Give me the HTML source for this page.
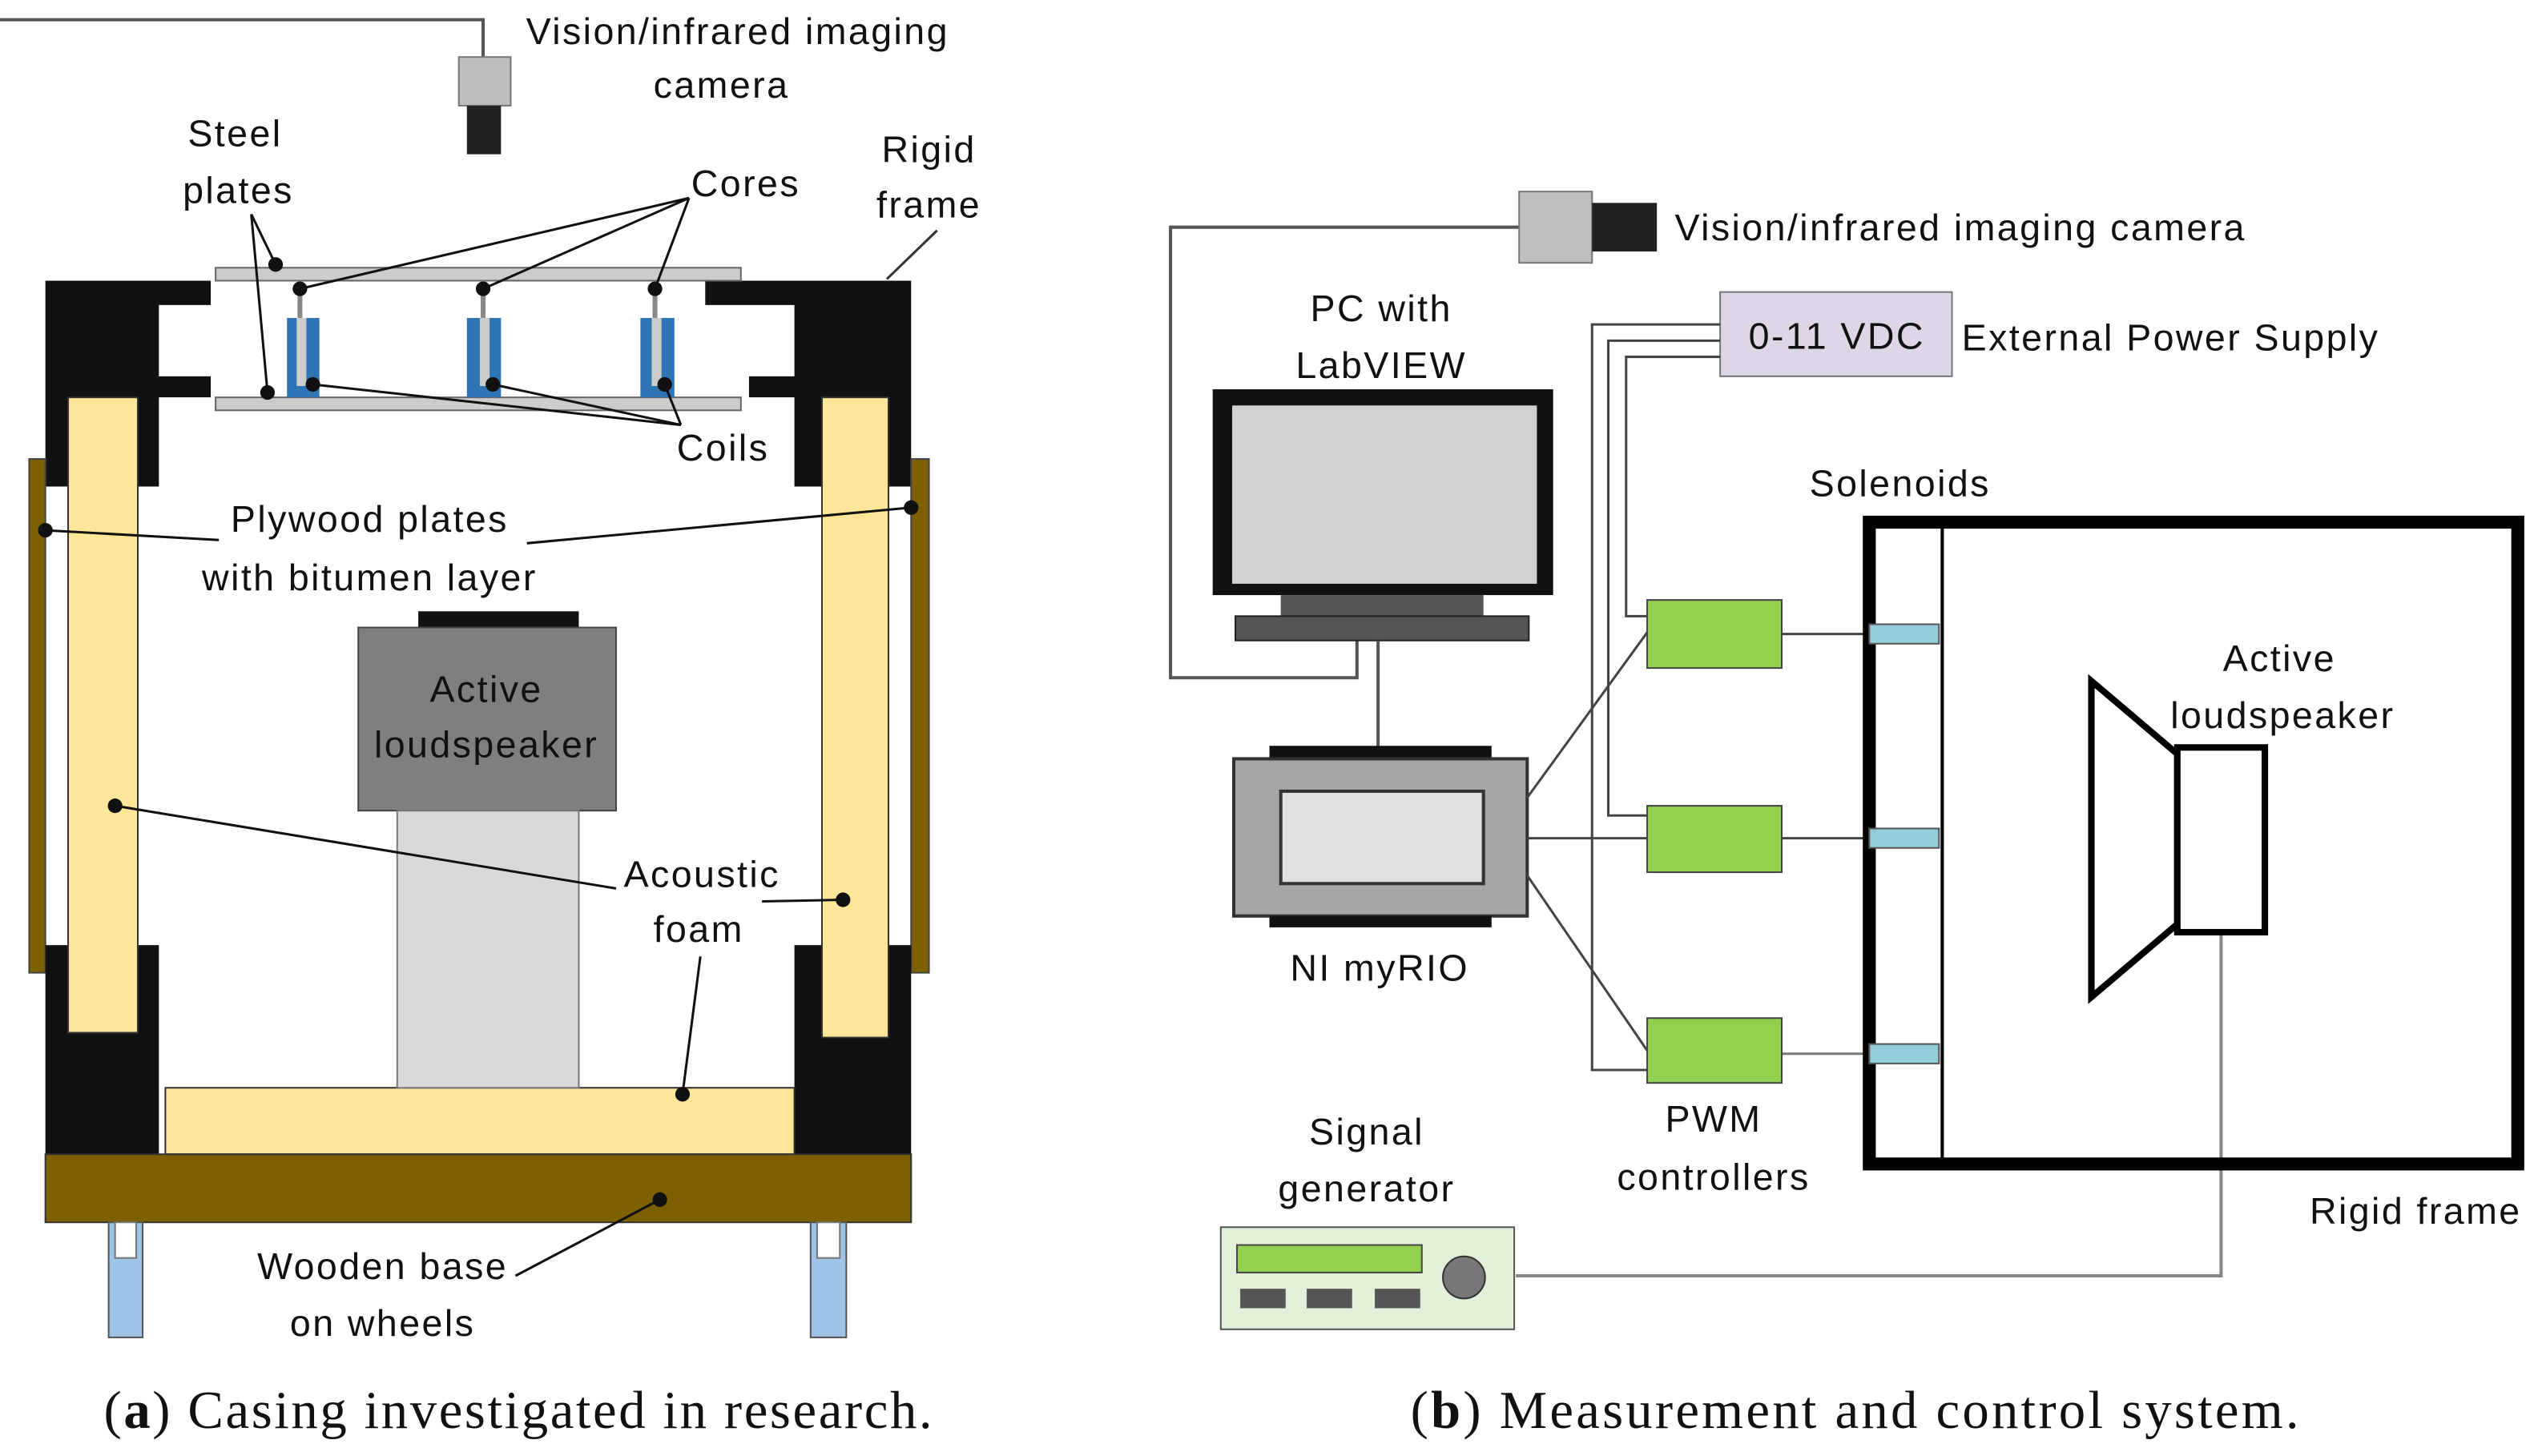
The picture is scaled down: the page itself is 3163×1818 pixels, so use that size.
<!DOCTYPE html>
<html><head><meta charset="utf-8"><style>
html,body{margin:0;padding:0;background:#fff;}
svg{display:block;}
text{font-family:"Liberation Sans",sans-serif;font-size:23px;fill:#111;letter-spacing:1.2px;}
.cap{font-family:"Liberation Serif",serif;font-size:33px;letter-spacing:0;}
</style></head><body>
<svg width="3163" height="1818" viewBox="0 0 1563 898" xmlns="http://www.w3.org/2000/svg">
<!-- ===== (a) ===== -->
<polyline points="0,12 298,12 298,36" fill="none" stroke="#555" stroke-width="2"/>
<rect x="283" y="35" width="32" height="30" fill="#bdbdbd" stroke="#777"/>
<rect x="288" y="65" width="21" height="30" fill="#222"/>
<text x="455" y="27" text-anchor="middle">Vision/infrared imaging</text>
<text x="445" y="60" text-anchor="middle">camera</text>
<text x="145" y="90" text-anchor="middle">Steel</text>
<text x="147" y="125" text-anchor="middle">plates</text>
<text x="460" y="121" text-anchor="middle">Cores</text>
<text x="573" y="100" text-anchor="middle">Rigid</text>
<text x="573" y="134" text-anchor="middle">frame</text>
<line x1="547" y1="172" x2="578" y2="142" stroke="#333" stroke-width="1.5"/>
<path d="M28,173 H130 V188 H98 V232 H130 V245 H98 V300 H28 Z" fill="#111"/>
<path d="M562,173 H435 V188 H490 V232 H462 V245 H490 V300 H562 Z" fill="#111"/>
<rect x="133" y="165" width="324" height="8" fill="#ccc" stroke="#666"/>
<rect x="133" y="245" width="324" height="8" fill="#ccc" stroke="#666"/>
<line x1="185" y1="173" x2="185" y2="245" stroke="#888" stroke-width="3"/>
<line x1="298" y1="173" x2="298" y2="245" stroke="#888" stroke-width="3"/>
<line x1="404" y1="173" x2="404" y2="245" stroke="#888" stroke-width="3"/>
<rect x="177" y="196" width="20" height="49" fill="#2e75b6"/>
<rect x="288" y="196" width="21" height="49" fill="#2e75b6"/>
<rect x="395" y="196" width="21" height="49" fill="#2e75b6"/>
<rect x="183" y="196" width="6" height="42" fill="#ccc"/>
<rect x="296" y="196" width="6" height="42" fill="#ccc"/>
<rect x="402" y="196" width="6" height="42" fill="#ccc"/>
<rect x="18" y="283" width="10" height="317" fill="#7f6000" stroke="#444"/>
<rect x="562" y="283" width="11" height="317" fill="#7f6000" stroke="#444"/>
<path d="M28,583 H98 V712 H28 Z" fill="#111"/>
<path d="M490,583 H562 V712 H490 Z" fill="#111"/>
<rect x="42" y="245" width="43" height="392" fill="#ffe699" stroke="#333"/>
<rect x="507" y="245" width="41" height="395" fill="#ffe699" stroke="#333"/>
<rect x="102" y="671" width="388" height="41" fill="#ffe699" stroke="#333"/>
<rect x="28" y="712" width="534" height="42" fill="#7f6000" stroke="#333"/>
<rect x="67" y="754" width="21" height="71" fill="#9dc3e6" stroke="#555"/>
<rect x="500" y="754" width="22" height="71" fill="#9dc3e6" stroke="#555"/>
<rect x="71" y="754" width="13" height="22" fill="#fff" stroke="#777"/>
<rect x="504" y="754" width="14" height="22" fill="#fff" stroke="#777"/>
<rect x="258" y="377" width="99" height="10" fill="#111"/>
<rect x="221" y="387" width="159" height="113" fill="#7f7f7f" stroke="#444"/>
<rect x="245" y="500" width="112" height="171" fill="#d9d9d9" stroke="#777"/>
<text x="300" y="433" text-anchor="middle" font-size="24">Active</text>
<text x="300" y="467" text-anchor="middle" font-size="24">loudspeaker</text>
<g stroke="#111" stroke-width="1.5" fill="none">
<line x1="155" y1="132" x2="170" y2="163"/><line x1="155" y1="132" x2="165" y2="242"/>
<line x1="425" y1="122" x2="185" y2="178"/><line x1="425" y1="122" x2="298" y2="178"/><line x1="425" y1="122" x2="404" y2="178"/>
<line x1="420" y1="262" x2="193" y2="237"/><line x1="420" y1="262" x2="304" y2="237"/><line x1="420" y1="262" x2="410" y2="237"/>
<line x1="135" y1="333" x2="28" y2="327"/><line x1="325" y1="335" x2="562" y2="313"/>
<line x1="380" y1="548" x2="71" y2="497"/><line x1="470" y1="556" x2="520" y2="555"/>
<line x1="432" y1="590" x2="421" y2="675"/><line x1="318" y1="787" x2="407" y2="740"/>
</g>
<g fill="#111">
<circle cx="170" cy="163" r="4.5"/><circle cx="165" cy="242" r="4.5"/>
<circle cx="185" cy="178" r="4.5"/><circle cx="298" cy="178" r="4.5"/><circle cx="404" cy="178" r="4.5"/>
<circle cx="193" cy="237" r="4.5"/><circle cx="304" cy="237" r="4.5"/><circle cx="410" cy="237" r="4.5"/>
<circle cx="28" cy="327" r="4.5"/><circle cx="562" cy="313" r="4.5"/>
<circle cx="71" cy="497" r="4.5"/><circle cx="520" cy="555" r="4.5"/><circle cx="421" cy="675" r="4.5"/><circle cx="407" cy="740" r="4.5"/>
</g>
<text x="446" y="284" text-anchor="middle">Coils</text>
<text x="228" y="328" text-anchor="middle">Plywood plates</text>
<text x="228" y="364" text-anchor="middle">with bitumen layer</text>
<text x="433" y="547" text-anchor="middle">Acoustic</text>
<text x="431" y="581" text-anchor="middle">foam</text>
<text x="236" y="789" text-anchor="middle">Wooden base</text>
<text x="236" y="824" text-anchor="middle">on wheels</text>
<text class="cap" x="64" y="881" textLength="511" lengthAdjust="spacing">(<tspan font-weight="bold">a</tspan>)  Casing investigated in research.</text>

<!-- ===== (b) ===== -->
<polyline points="937,140 722,140 722,418 837,418 837,395" fill="none" stroke="#555" stroke-width="2"/>
<rect x="937" y="118" width="45" height="44" fill="#bfbfbf" stroke="#777"/>
<rect x="982" y="125" width="40" height="30" fill="#222"/>
<text x="1033" y="148">Vision/infrared imaging camera</text>
<text x="852" y="198" text-anchor="middle">PC with</text>
<text x="852" y="233" text-anchor="middle">LabVIEW</text>
<rect x="748" y="240" width="210" height="127" fill="#111"/>
<rect x="760" y="250" width="188" height="110" fill="#d0d0d0"/>
<rect x="790" y="367" width="125" height="13" fill="#555"/>
<rect x="762" y="380" width="181" height="15" fill="#555" stroke="#222"/>
<line x1="850" y1="395" x2="850" y2="462" stroke="#555" stroke-width="2"/>
<rect x="783" y="460" width="137" height="10" fill="#111"/>
<rect x="761" y="468" width="181" height="97" fill="#a6a6a6" stroke="#333" stroke-width="2"/>
<rect x="790" y="488" width="125" height="57" fill="#e0e0e0" stroke="#333" stroke-width="2"/>
<rect x="783" y="565" width="137" height="7" fill="#111"/>
<text x="851" y="605" text-anchor="middle">NI myRIO</text>
<rect x="1061" y="180" width="143" height="52" fill="#dcd6e6" stroke="#777"/>
<text x="1133" y="215" text-anchor="middle" font-size="24">0-11 VDC</text>
<text x="1210" y="216">External Power Supply</text>
<g fill="none" stroke="#444" stroke-width="1.5">
<polyline points="1061,200 982,200 982,660 1016,660"/>
<polyline points="1061,210 992,210 992,503 1016,503"/>
<polyline points="1061,220 1003,220 1003,380 1016,380"/>
<line x1="942" y1="492" x2="1016" y2="390"/>
<line x1="942" y1="517" x2="1016" y2="517"/>
<line x1="942" y1="540" x2="1016" y2="648"/>
<line x1="1099" y1="391" x2="1153" y2="391"/>
<line x1="1099" y1="517" x2="1153" y2="517"/>
<line x1="1099" y1="650" x2="1153" y2="650" stroke="#777"/>
<polyline points="1370,575 1370,787 935,787" stroke="#888" stroke-width="2"/>
</g>
<rect x="1016" y="370" width="83" height="42" fill="#92d050" stroke="#444"/>
<rect x="1016" y="497" width="83" height="41" fill="#92d050" stroke="#444"/>
<rect x="1016" y="628" width="83" height="40" fill="#92d050" stroke="#444"/>
<text x="1172" y="306" text-anchor="middle">Solenoids</text>
<text x="1057" y="698" text-anchor="middle">PWM</text>
<text x="1057" y="734" text-anchor="middle">controllers</text>
<rect x="1153" y="322" width="400" height="396" fill="none" stroke="#000" stroke-width="8"/>
<line x1="1198" y1="322" x2="1198" y2="718" stroke="#000" stroke-width="2"/>
<rect x="1153" y="385" width="43" height="12" fill="#92cddc" stroke="#555"/>
<rect x="1153" y="511" width="43" height="12" fill="#92cddc" stroke="#555"/>
<rect x="1153" y="644" width="43" height="12" fill="#92cddc" stroke="#555"/>
<polygon points="1290,420 1343,465 1343,570 1290,615" fill="#fff" stroke="#000" stroke-width="4"/>
<rect x="1343" y="461" width="54" height="114" fill="#fff" stroke="#000" stroke-width="4"/>
<text x="1406" y="414" text-anchor="middle">Active</text>
<text x="1408" y="449" text-anchor="middle">loudspeaker</text>
<text x="1490" y="755" text-anchor="middle">Rigid frame</text>
<text x="843" y="706" text-anchor="middle">Signal</text>
<text x="843" y="741" text-anchor="middle">generator</text>
<rect x="753" y="757" width="181" height="63" fill="#e2efd9" stroke="#555"/>
<rect x="763" y="768" width="114" height="17" fill="#92d050" stroke="#444"/>
<rect x="765" y="795" width="28" height="12" fill="#555"/>
<rect x="806" y="795" width="28" height="12" fill="#555"/>
<rect x="848" y="795" width="28" height="12" fill="#555"/>
<circle cx="903" cy="788" r="13" fill="#777" stroke="#333"/>
<text class="cap" x="870" y="881" textLength="548" lengthAdjust="spacing">(<tspan font-weight="bold">b</tspan>)  Measurement and control system.</text>
</svg>
</body></html>
